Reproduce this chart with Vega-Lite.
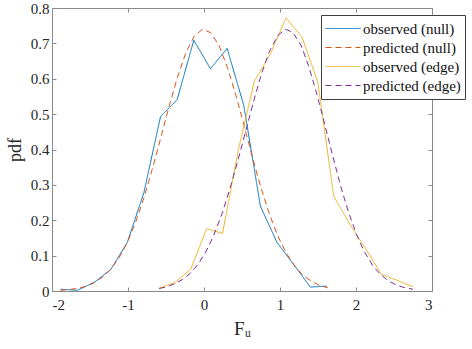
{
  "$schema": "https://vega.github.io/schema/vega-lite/v6.json",
  "width": 380,
  "height": 283,
  "autosize": {"type": "none"},
  "padding": {"left": 52, "top": 8, "right": 40, "bottom": 58},
  "background": "white",
  "config": {
    "font": "Liberation Serif",
    "view": {"stroke": "#8a8a8a", "strokeWidth": 1},
    "style": {"guide-label": {"font": "Liberation Serif", "fontSize": 15, "fill": "#262626"}},
    "axisX": {"labelFont": "Liberation Serif", "labelFontSize": 15},
    "axisY": {"labelFont": "Liberation Serif", "labelFontSize": 15},
    "axis": {
      "grid": false,
      "domainColor": "#8a8a8a",
      "tickColor": "#8a8a8a",
      "labelColor": "#262626",
      "titleColor": "#262626",
      "labelFont": "Liberation Serif",
      "titleFont": "Liberation Serif",
      "labelFontSize": 15,
      "titleFontSize": 18,
      "titleFontWeight": "normal",
      "tickSize": -4
    }
  },
  "data": {
    "values": [
      {"series": "observed (null)", "x": -1.886, "y": 0.005},
      {"series": "observed (null)", "x": -1.667, "y": 0.002},
      {"series": "observed (null)", "x": -1.448, "y": 0.024},
      {"series": "observed (null)", "x": -1.229, "y": 0.060},
      {"series": "observed (null)", "x": -1.010, "y": 0.137},
      {"series": "observed (null)", "x": -0.791, "y": 0.278},
      {"series": "observed (null)", "x": -0.572, "y": 0.493},
      {"series": "observed (null)", "x": -0.353, "y": 0.541},
      {"series": "observed (null)", "x": -0.134, "y": 0.709},
      {"series": "observed (null)", "x": 0.085, "y": 0.628},
      {"series": "observed (null)", "x": 0.304, "y": 0.686},
      {"series": "observed (null)", "x": 0.523, "y": 0.525},
      {"series": "observed (null)", "x": 0.742, "y": 0.240},
      {"series": "observed (null)", "x": 0.961, "y": 0.137},
      {"series": "observed (null)", "x": 1.180, "y": 0.075},
      {"series": "observed (null)", "x": 1.399, "y": 0.011},
      {"series": "observed (null)", "x": 1.618, "y": 0.014},

      {"series": "predicted (null)", "x": -1.89, "y": 0.002},
      {"series": "predicted (null)", "x": -1.78, "y": 0.004},
      {"series": "predicted (null)", "x": -1.67, "y": 0.007},
      {"series": "predicted (null)", "x": -1.56, "y": 0.013},
      {"series": "predicted (null)", "x": -1.45, "y": 0.023},
      {"series": "predicted (null)", "x": -1.34, "y": 0.038},
      {"series": "predicted (null)", "x": -1.23, "y": 0.061},
      {"series": "predicted (null)", "x": -1.12, "y": 0.093},
      {"series": "predicted (null)", "x": -1.01, "y": 0.137},
      {"series": "predicted (null)", "x": -0.90, "y": 0.194},
      {"series": "predicted (null)", "x": -0.79, "y": 0.264},
      {"series": "predicted (null)", "x": -0.68, "y": 0.345},
      {"series": "predicted (null)", "x": -0.57, "y": 0.432},
      {"series": "predicted (null)", "x": -0.46, "y": 0.522},
      {"series": "predicted (null)", "x": -0.35, "y": 0.604},
      {"series": "predicted (null)", "x": -0.24, "y": 0.673},
      {"series": "predicted (null)", "x": -0.13, "y": 0.720},
      {"series": "predicted (null)", "x": -0.02, "y": 0.740},
      {"series": "predicted (null)", "x": 0.09, "y": 0.730},
      {"series": "predicted (null)", "x": 0.20, "y": 0.693},
      {"series": "predicted (null)", "x": 0.31, "y": 0.631},
      {"series": "predicted (null)", "x": 0.42, "y": 0.553},
      {"series": "predicted (null)", "x": 0.53, "y": 0.465},
      {"series": "predicted (null)", "x": 0.64, "y": 0.376},
      {"series": "predicted (null)", "x": 0.75, "y": 0.292},
      {"series": "predicted (null)", "x": 0.86, "y": 0.218},
      {"series": "predicted (null)", "x": 0.97, "y": 0.156},
      {"series": "predicted (null)", "x": 1.08, "y": 0.108},
      {"series": "predicted (null)", "x": 1.19, "y": 0.071},
      {"series": "predicted (null)", "x": 1.30, "y": 0.045},
      {"series": "predicted (null)", "x": 1.41, "y": 0.028},
      {"series": "predicted (null)", "x": 1.52, "y": 0.016},
      {"series": "predicted (null)", "x": 1.63, "y": 0.009},

      {"series": "observed (edge)", "x": -0.592, "y": 0.008},
      {"series": "observed (edge)", "x": -0.383, "y": 0.024},
      {"series": "observed (edge)", "x": -0.174, "y": 0.062},
      {"series": "observed (edge)", "x": 0.035, "y": 0.176},
      {"series": "observed (edge)", "x": 0.244, "y": 0.163},
      {"series": "observed (edge)", "x": 0.453, "y": 0.400},
      {"series": "observed (edge)", "x": 0.662, "y": 0.593},
      {"series": "observed (edge)", "x": 0.871, "y": 0.669},
      {"series": "observed (edge)", "x": 1.080, "y": 0.772},
      {"series": "observed (edge)", "x": 1.289, "y": 0.718},
      {"series": "observed (edge)", "x": 1.498, "y": 0.590},
      {"series": "observed (edge)", "x": 1.707, "y": 0.268},
      {"series": "observed (edge)", "x": 1.916, "y": 0.190},
      {"series": "observed (edge)", "x": 2.125, "y": 0.120},
      {"series": "observed (edge)", "x": 2.334, "y": 0.047},
      {"series": "observed (edge)", "x": 2.543, "y": 0.030},
      {"series": "observed (edge)", "x": 2.752, "y": 0.012},

      {"series": "predicted (edge)", "x": -0.59, "y": 0.007},
      {"series": "predicted (edge)", "x": -0.49, "y": 0.012},
      {"series": "predicted (edge)", "x": -0.38, "y": 0.021},
      {"series": "predicted (edge)", "x": -0.28, "y": 0.033},
      {"series": "predicted (edge)", "x": -0.18, "y": 0.050},
      {"series": "predicted (edge)", "x": -0.07, "y": 0.078},
      {"series": "predicted (edge)", "x": 0.03, "y": 0.113},
      {"series": "predicted (edge)", "x": 0.13, "y": 0.158},
      {"series": "predicted (edge)", "x": 0.24, "y": 0.220},
      {"series": "predicted (edge)", "x": 0.34, "y": 0.288},
      {"series": "predicted (edge)", "x": 0.45, "y": 0.372},
      {"series": "predicted (edge)", "x": 0.55, "y": 0.453},
      {"series": "predicted (edge)", "x": 0.66, "y": 0.542},
      {"series": "predicted (edge)", "x": 0.76, "y": 0.616},
      {"series": "predicted (edge)", "x": 0.86, "y": 0.677},
      {"series": "predicted (edge)", "x": 0.97, "y": 0.722},
      {"series": "predicted (edge)", "x": 1.07, "y": 0.740},
      {"series": "predicted (edge)", "x": 1.17, "y": 0.731},
      {"series": "predicted (edge)", "x": 1.28, "y": 0.693},
      {"series": "predicted (edge)", "x": 1.38, "y": 0.634},
      {"series": "predicted (edge)", "x": 1.49, "y": 0.553},
      {"series": "predicted (edge)", "x": 1.59, "y": 0.470},
      {"series": "predicted (edge)", "x": 1.69, "y": 0.385},
      {"series": "predicted (edge)", "x": 1.80, "y": 0.295},
      {"series": "predicted (edge)", "x": 1.90, "y": 0.224},
      {"series": "predicted (edge)", "x": 2.01, "y": 0.158},
      {"series": "predicted (edge)", "x": 2.11, "y": 0.111},
      {"series": "predicted (edge)", "x": 2.22, "y": 0.072},
      {"series": "predicted (edge)", "x": 2.32, "y": 0.047},
      {"series": "predicted (edge)", "x": 2.42, "y": 0.030},
      {"series": "predicted (edge)", "x": 2.53, "y": 0.017},
      {"series": "predicted (edge)", "x": 2.63, "y": 0.010},
      {"series": "predicted (edge)", "x": 2.75, "y": 0.005}
    ]
  },
  "layer": [
    {
      "mark": {"type": "line", "strokeWidth": 1, "clip": true},
      "encoding": {
        "x": {
          "field": "x", "type": "quantitative",
          "scale": {"domain": [-2, 3], "nice": false, "zero": false},
          "axis": {
            "values": [-2, -1, 0, 1, 2, 3],
            "labelExpr": "'' + datum.value",
            "labelFont": "Liberation Serif",
            "labelFontSize": 15,
            "labelPadding": 10,
            "title": "Fᵤ",
            "titleFontSize": 19,
            "titlePadding": 7
          }
        },
        "y": {
          "field": "y", "type": "quantitative",
          "scale": {"domain": [0, 0.8], "nice": false},
          "axis": {
            "values": [0, 0.1, 0.2, 0.3, 0.4, 0.5, 0.6, 0.7, 0.8],
            "format": ".1~f",
            "labelFont": "Liberation Serif",
            "labelFontSize": 15,
            "labelPadding": 7,
            "title": "pdf",
            "titleFontSize": 18,
            "titlePadding": 6
          }
        },
        "color": {
          "field": "series", "type": "nominal",
          "scale": {
            "domain": ["observed (null)", "predicted (null)", "observed (edge)", "predicted (edge)"],
            "range": ["#0072BD", "#D95319", "#EDB120", "#7E2F8E"]
          },
          "legend": {
            "title": null,
            "orient": "none",
            "legendX": 269,
            "legendY": 7,
            "symbolType": "stroke",
            "symbolSize": 1225,
            "symbolStrokeWidth": 1,
            "clipHeight": 19,
            "labelFontSize": 15,
            "labelFont": "Liberation Serif",
            "labelColor": "#111111",
            "labelOffset": 2,
            "rowPadding": 0,
            "padding": 4,
            "fillColor": "white",
            "strokeColor": "#404040"
          }
        },
        "strokeDash": {
          "field": "series", "type": "nominal",
          "scale": {
            "domain": ["observed (null)", "predicted (null)", "observed (edge)", "predicted (edge)"],
            "range": [[1, 0], [6, 4], [1, 0], [6, 4]]
          },
          "legend": null
        }
      }
    },
    {
      "mark": {"type": "point", "opacity": 0},
      "encoding": {
        "x": {
          "field": "x", "type": "quantitative",
          "axis": {"orient": "top", "values": [-2, -1, 0, 1, 2, 3], "labels": false, "title": null}
        },
        "y": {
          "field": "y", "type": "quantitative",
          "axis": {"orient": "right", "values": [0, 0.1, 0.2, 0.3, 0.4, 0.5, 0.6, 0.7, 0.8], "labels": false, "title": null}
        }
      }
    }
  ],
  "resolve": {"axis": {"x": "independent", "y": "independent"}}
}
